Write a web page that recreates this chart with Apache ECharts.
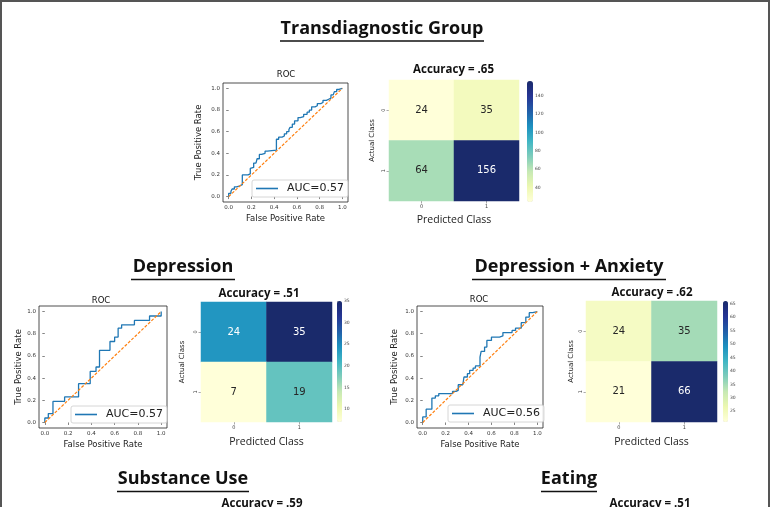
<!DOCTYPE html>
<html>
<head>
<meta charset="utf-8">
<script src="https://cdn.jsdelivr.net/npm/echarts@6/dist/echarts.min.js"></script>
<style>
html,body{margin:0;padding:0;background:#fff;}
#c{width:771px;height:507px;}
</style>
</head>
<body>
<div id="c"></div>
<script>
// ================= DATA =================
const rocTicks = [0, 0.2, 0.4, 0.6, 0.8, 1.0];
const classLabels = ['0', '1'];
const chanceX = [0, 1];
const chanceY = [0, 1];

// --- Transdiagnostic Group ---
const transFpr = [0.00,0.02,0.03,0.05,0.07,0.10,0.12,0.17,0.19,0.20,0.22,0.24,0.25,0.27,0.29,0.32,0.34,0.42,0.44,0.47,0.49,0.51,0.53,0.54,0.56,0.58,0.61,0.63,0.66,0.69,0.71,0.73,0.76,0.78,0.81,0.83,0.86,0.88,0.90,0.92,0.93,0.95,0.97,1.00];
const transTpr = [0.03,0.05,0.07,0.09,0.10,0.11,0.20,0.21,0.26,0.27,0.31,0.32,0.35,0.39,0.40,0.42,0.43,0.53,0.55,0.56,0.58,0.60,0.62,0.64,0.67,0.70,0.73,0.74,0.76,0.78,0.80,0.83,0.84,0.86,0.87,0.89,0.90,0.91,0.94,0.95,0.97,0.99,1.00,1.00];
const transAuc = 'AUC=0.57';
const transMatrix = [[24, 35], [64, 156]];   // rows: actual 0/1, cols: predicted 0/1
const transAccuracy = 'Accuracy = .65';
const transCbarTicks = [40, 60, 80, 100, 120, 140];

// --- Depression ---
const depFpr = [0.00,0.03,0.07,0.17,0.29,0.39,0.44,0.47,0.56,0.60,0.63,0.66,0.77,0.90,1.00];
const depTpr = [0.04,0.08,0.19,0.23,0.35,0.46,0.50,0.65,0.73,0.77,0.85,0.88,0.92,0.96,1.00];
const depAuc = 'AUC=0.57';
const depMatrix = [[24, 35], [7, 19]];
const depAccuracy = 'Accuracy = .51';
const depCbarTicks = [10, 15, 20, 25, 30, 35];

// --- Depression + Anxiety ---
const daFpr = [0.00,0.03,0.08,0.11,0.14,0.26,0.29,0.31,0.35,0.36,0.39,0.41,0.44,0.46,0.50,0.51,0.54,0.56,0.60,0.67,0.70,0.78,0.81,0.86,0.90,0.93,0.96,1.00];
const daTpr = [0.05,0.12,0.22,0.24,0.26,0.28,0.29,0.34,0.35,0.41,0.44,0.47,0.49,0.51,0.59,0.64,0.68,0.74,0.77,0.78,0.81,0.83,0.85,0.90,0.95,0.99,1.00,1.00];
const daAuc = 'AUC=0.56';
const daMatrix = [[24, 35], [21, 66]];
const daAccuracy = 'Accuracy = .62';
const daCbarTicks = [25, 30, 35, 40, 45, 50, 55, 60, 65];

// --- Section titles (lower panels cut off) ---
const sectionTitles = ['Transdiagnostic Group', 'Depression', 'Depression + Anxiety', 'Substance Use', 'Eating'];
const cutAccuracies = ['Accuracy = .59', 'Accuracy = .51'];

// ================= STYLE =================
const YLGNBU = ['#ffffd9','#edf8b1','#c7e9b4','#7fcdbb','#41b6c4','#1d91c0','#225ea8','#253494','#1a2a6b'];
const MPL = 'DejaVu Sans';
const CAL = '"Open Sans", Lato, sans-serif';
const BLUE = '#1f77b4', ORANGE = '#ff7f0e';

// ================= BUILD =================
function stepCorners(fx, ty) {
  const pts = [[0, 0]];
  let prev = 0;
  for (let i = 0; i < fx.length; i++) {
    pts.push([fx[i], prev]);
    pts.push([fx[i], ty[i]]);
    prev = ty[i];
  }
  return pts;
}
function heatData(m) {
  const lo = Math.min(...m.flat()), hi = Math.max(...m.flat());
  const out = [];
  m.forEach((row, r) => row.forEach((v, c) => {
    const t = (v - lo) / (hi - lo);
    out.push({ value: [c, r, v], label: { color: t > 0.55 ? '#ffffff' : '#262626' } });
  }));
  return out;
}

const panels = [
  { fpr: transFpr, tpr: transTpr, auc: transAuc, mat: transMatrix, cbt: transCbarTicks,
    roc: { left: 223, top: 83, width: 125, height: 119, yGap: 20, xGap: 12 },
    heat: { left: 389, top: 80, width: 130, height: 121, yGap: 13, xGap: 14 },
    cbar: { left: 527, top: 81, width: 6, height: 121 },
    legend: { left: 252, top: 180 } },
  { fpr: depFpr, tpr: depTpr, auc: depAuc, mat: depMatrix, cbt: depCbarTicks,
    roc: { left: 39, top: 306, width: 128, height: 122, yGap: 16, xGap: 12 },
    heat: { left: 201, top: 302, width: 131, height: 120, yGap: 15, xGap: 15 },
    cbar: { left: 337, top: 301, width: 5, height: 121 },
    legend: { left: 71, top: 406 } },
  { fpr: daFpr, tpr: daTpr, auc: daAuc, mat: daMatrix, cbt: daCbarTicks,
    roc: { left: 417, top: 306, width: 126, height: 122, yGap: 18, xGap: 12 },
    heat: { left: 586, top: 301, width: 131, height: 121, yGap: 11, xGap: 15 },
    cbar: { left: 723, top: 301, width: 5, height: 121 },
    legend: { left: 448, top: 405 } }
];

const grid = [], xAxis = [], yAxis = [], series = [], visualMap = [], legend = [];

panels.forEach((p) => {
  // ROC grid
  const gRoc = grid.length;
  grid.push({ left: p.roc.left, top: p.roc.top, width: p.roc.width, height: p.roc.height,
    show: true, borderColor: '#222', borderWidth: 0.8, backgroundColor: '#fff' });
  const rocTickStyle = { show: true, length: 2.5, customValues: rocTicks, lineStyle: { color: '#333', width: 0.6 } };
  const rocLabel = { customValues: rocTicks, formatter: v => v.toFixed(1), fontSize: 5.5, color: '#333', margin: 3, fontFamily: MPL };
  xAxis.push({ gridIndex: gRoc, type: 'value', min: -0.05, max: 1.05,
    axisLine: { show: false }, splitLine: { show: false }, axisTick: rocTickStyle, axisLabel: rocLabel,
    name: 'False Positive Rate', nameLocation: 'middle', nameGap: p.roc.xGap,
    nameTextStyle: { fontFamily: MPL, fontSize: 8.5, color: '#222' } });
  yAxis.push({ gridIndex: gRoc, type: 'value', min: -0.05, max: 1.05,
    axisLine: { show: false }, splitLine: { show: false }, axisTick: rocTickStyle, axisLabel: rocLabel,
    name: 'True Positive Rate', nameLocation: 'middle', nameGap: p.roc.yGap,
    nameTextStyle: { fontFamily: MPL, fontSize: 8.5, color: '#222' } });
  series.push({ type: 'line', name: p.auc, xAxisIndex: gRoc, yAxisIndex: gRoc,
    data: stepCorners(p.fpr, p.tpr), showSymbol: false, symbol: 'none', color: BLUE,
    lineStyle: { color: BLUE, width: 1.3 }, silent: true, animation: false });
  series.push({ type: 'line', name: 'chance', xAxisIndex: gRoc, yAxisIndex: gRoc,
    data: chanceX.map((x, i) => [x, chanceY[i]]), showSymbol: false, symbol: 'none',
    lineStyle: { color: ORANGE, width: 1.2, type: [3, 1.6] }, silent: true, animation: false });
  legend.push({ data: [p.auc], left: p.legend.left, top: p.legend.top, orient: 'vertical',
    padding: [2, 4, 2, 4], itemGap: 0, itemWidth: 22, itemHeight: 1.6, icon: 'rect',
    borderColor: '#cccccc', borderWidth: 0.8, borderRadius: 2, backgroundColor: 'rgba(255,255,255,0.85)',
    selectedMode: false,
    textStyle: { fontFamily: MPL, fontSize: 11, color: '#222', padding: [0, 0, 0, 4], lineHeight: 13 } });

  // heatmap grid
  const gHeat = grid.length;
  grid.push({ left: p.heat.left, top: p.heat.top, width: p.heat.width, height: p.heat.height });
  xAxis.push({ gridIndex: gHeat, type: 'category', data: classLabels,
    axisLine: { show: false }, splitLine: { show: false }, splitArea: { show: false },
    axisTick: { show: true, alignWithLabel: true, length: 2.5, lineStyle: { color: '#555', width: 0.5 } },
    axisLabel: { fontSize: 5, color: '#444', margin: 3, fontFamily: MPL },
    name: 'Predicted Class', nameLocation: 'middle', nameGap: p.heat.xGap,
    nameTextStyle: { fontFamily: CAL, fontSize: 10.5, color: '#222' } });
  yAxis.push({ gridIndex: gHeat, type: 'category', data: classLabels, inverse: true,
    axisLine: { show: false }, splitLine: { show: false }, splitArea: { show: false },
    axisTick: { show: true, alignWithLabel: true, length: 2.5, lineStyle: { color: '#555', width: 0.5 } },
    axisLabel: { fontSize: 5, color: '#444', margin: 3, rotate: 90, fontFamily: MPL },
    name: 'Actual Class', nameLocation: 'middle', nameGap: p.heat.yGap,
    nameTextStyle: { fontFamily: MPL, fontSize: 7, color: '#222' } });
  const sHeat = series.length;
  series.push({ type: 'heatmap', xAxisIndex: gHeat, yAxisIndex: gHeat, data: heatData(p.mat),
    label: { show: true, fontFamily: MPL, fontSize: 10 }, silent: true, animation: false,
    emphasis: { disabled: true } });
  const lo = Math.min(...p.mat.flat()), hi = Math.max(...p.mat.flat());
  visualMap.push({ type: 'continuous', seriesIndex: sHeat, min: lo, max: hi, dimension: 2,
    inRange: { color: YLGNBU }, left: p.cbar.left, top: p.cbar.top,
    itemWidth: p.cbar.width, itemHeight: p.cbar.height, calculable: false, hoverLink: false,
    padding: 0, orient: 'vertical', align: 'left' });

  // colorbar axis
  const gCb = grid.length;
  grid.push({ left: p.cbar.left, top: p.cbar.top, width: p.cbar.width, height: p.cbar.height });
  xAxis.push({ gridIndex: gCb, type: 'value', show: false, min: 0, max: 1 });
  yAxis.push({ gridIndex: gCb, type: 'value', min: lo, max: hi, position: 'right',
    axisLine: { show: false }, splitLine: { show: false },
    axisTick: { show: true, length: 2, customValues: p.cbt, lineStyle: { color: '#555', width: 0.5 } },
    axisLabel: { customValues: p.cbt, fontSize: 4.5, color: '#444', margin: 2, fontFamily: MPL } });
});

// free texts
function txt(text, x, y, font, extra) {
  return Object.assign({ type: 'text', x: x, y: y, silent: true,
    style: { text: text, font: font, fill: '#111', align: 'center', verticalAlign: 'middle' } }, extra || {});
}
function uline(x1, x2, y) {
  return { type: 'line', silent: true, shape: { x1: x1, y1: y, x2: x2, y2: y }, style: { stroke: '#111', lineWidth: 1.6 } };
}
const TFONT = 'bold 18px ' + CAL;
const AFONT = 'bold 11.5px ' + CAL;
const graphic = [
  { type: 'rect', silent: true, shape: { x: 1, y: 1, width: 768, height: 530 }, style: { fill: 'none', stroke: '#555', lineWidth: 2 } },
  txt(sectionTitles[0], 382, 28.5, TFONT), uline(280, 484, 41),
  txt(sectionTitles[1], 183, 266.5, TFONT), uline(131, 235, 279.5),
  txt(sectionTitles[2], 569, 266.5, TFONT), uline(472, 666, 279.5),
  txt(sectionTitles[3], 183, 478.5, TFONT), uline(117, 249, 491.5),
  txt(sectionTitles[4], 569, 478.5, TFONT), uline(541, 597, 491.5),
  txt('ROC', 286, 75, '8.5px ' + MPL),
  txt('ROC', 101, 300.5, '8.5px ' + MPL),
  txt('ROC', 479, 299.5, '8.5px ' + MPL),
  txt(transAccuracy, 453.5, 70, AFONT),
  txt(depAccuracy, 259, 294, AFONT),
  txt(daAccuracy, 652, 293, AFONT),
  txt(cutAccuracies[0], 262, 504, AFONT),
  txt(cutAccuracies[1], 650, 504, AFONT)
];

const chart = echarts.init(document.getElementById('c'), null, { renderer: 'canvas', width: 771, height: 507 });
chart.setOption({
  animation: false,
  backgroundColor: '#ffffff',
  grid: grid, xAxis: xAxis, yAxis: yAxis, series: series,
  visualMap: visualMap, legend: legend, graphic: graphic
});
</script>
</body>
</html>
